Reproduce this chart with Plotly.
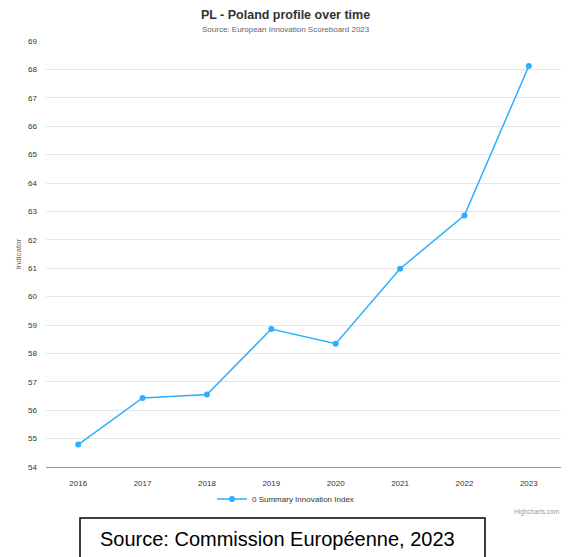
import plotly.graph_objects as go

years = ["2016", "2017", "2018", "2019", "2020", "2021", "2022", "2023"]
summary_index = [54.79, 56.43, 56.55, 58.86, 58.34, 60.98, 62.86, 68.12]
series_name = "0 Summary Innovation Index"
y_ticks = list(range(54, 70))

FONT = "Liberation Sans, Arial, Helvetica, sans-serif"
BLUE = "#2caffe"

L, R, T, B = 46, 561, 41, 467
PW, PH = R - L, B - T

def px(xp):
    return (xp - L) / PW

def py(yp):
    return (B - yp) / PH

fig = go.Figure()
fig.add_trace(go.Scatter(
    x=years, y=summary_index, mode="lines+markers", name=series_name,
    line=dict(color=BLUE, width=1.5),
    marker=dict(color=BLUE, size=6),
    showlegend=True,
))

fig.update_layout(
    width=571, height=557,
    margin=dict(l=L, r=571 - R, t=T, b=557 - B, autoexpand=False),
    paper_bgcolor="white", plot_bgcolor="white",
    font=dict(family=FONT, color="#666666", size=8),
    title=dict(
        text="<b>PL - Poland profile over time</b>",
        x=0.5, xanchor="center", xref="container",
        y=1 - 15 / 557, yanchor="middle", yref="container",
        font=dict(family=FONT, size=12.5, color="#333333"),
    ),
    xaxis=dict(
        type="category", range=[-0.5, 7.5],
        showgrid=False, showline=True, linecolor="#999999", linewidth=1,
        ticks="", tickfont=dict(size=8, color="#333333"),
        ticklabelstandoff=8,
    ),
    yaxis=dict(
        range=[54, 69], tickvals=y_ticks,
        showgrid=True, gridcolor="#e6e6e6", gridwidth=1,
        zeroline=False, showline=False, ticks="",
        tickfont=dict(size=8, color="#333333"),
        ticklabelstandoff=8,
        title=dict(text="Indicator", font=dict(size=8, color="#666666"), standoff=5),
    ),
    legend=dict(
        orientation="h", x=0.5, xanchor="center", xref="container",
        y=1 - 499 / 557, yanchor="middle", yref="container",
        font=dict(size=8, color="#333333"),
        bgcolor="rgba(0,0,0,0)",
    ),
    showlegend=True,
)

fig.add_annotation(
    text="Source: European Innovation Scoreboard 2023", xref="paper", yref="paper",
    x=px(285.5), xanchor="center", y=py(29), yanchor="middle",
    showarrow=False, font=dict(family=FONT, size=8, color="#666666"),
)

fig.add_annotation(
    text="Highcharts.com", xref="paper", yref="paper",
    x=px(561), xanchor="right", y=py(512), yanchor="middle",
    showarrow=False, font=dict(size=6.5, color="#999999"),
)

fig.add_shape(
    type="rect", xref="paper", yref="paper",
    x0=px(80), x1=px(485), y0=py(518), y1=py(570),
    line=dict(color="black", width=1.5), fillcolor="white", layer="above",
)
fig.add_annotation(
    text="Source: Commission Européenne, 2023", xref="paper", yref="paper",
    x=px(277), xanchor="center", y=py(539), yanchor="middle",
    showarrow=False, font=dict(family=FONT, size=20, color="black"),
)

fig.write_html(
    "out.html",
    config={"displayModeBar": False},
    post_script="document.body.style.margin='0';document.body.style.overflow='hidden';",
)
